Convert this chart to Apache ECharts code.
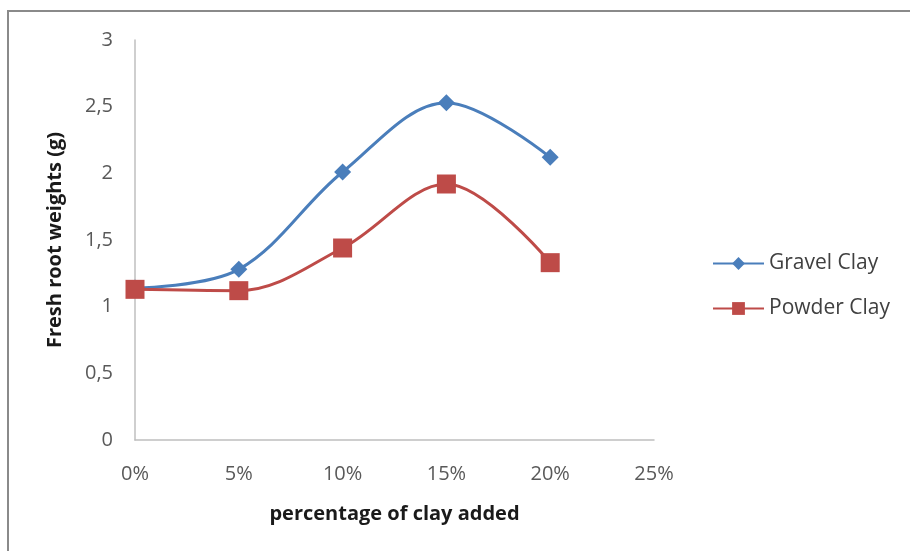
<!DOCTYPE html>
<html>
<head>
<meta charset="utf-8">
<script src="https://cdn.jsdelivr.net/npm/echarts@6/dist/echarts.min.js"></script>
<style>
  html, body { margin: 0; padding: 0; background: #ffffff; }
  #chart { width: 910px; height: 551px; }
</style>
</head>
<body>
<div id="chart"></div>
<script>
// Percentage of clay added (x-axis ticks)
const clayLabels = ['0%', '5%', '10%', '15%', '20%', '25%'];
// Fresh root weights in grams per treatment
const gravelClay = [1.14, 1.28, 2.01, 2.53, 2.12];
const powderClay = [1.13, 1.12, 1.44, 1.92, 1.33];
const yTicks = { min: 0, max: 3, interval: 0.5 };

const FONT = 'Open Sans';
const BLUE = '#4a7ebb';
const RED = '#be4b48';

const chart = echarts.init(document.getElementById('chart'), null, { renderer: 'canvas' });

chart.setOption({
  backgroundColor: '#ffffff',
  animation: false,
  textStyle: { fontFamily: FONT },
  graphic: [{
    type: 'rect',
    shape: { x: 8, y: 11, width: 920, height: 560 },
    style: { fill: 'none', stroke: '#8a8a8a', lineWidth: 2 },
    silent: true
  }],
  grid: { left: 135, right: 256, top: 40, bottom: 111 },
  legend: {
    orient: 'vertical',
    left: 707,
    top: 248,
    itemWidth: 51,
    itemHeight: 16,
    itemGap: 24,
    textStyle: { fontFamily: FONT, fontSize: 21, color: '#404040' },
    data: ['Gravel Clay', 'Powder Clay']
  },
  xAxis: {
    type: 'category',
    data: clayLabels,
    boundaryGap: false,
    name: 'percentage of clay added',
    nameLocation: 'middle',
    nameGap: 64,
    nameTextStyle: { fontFamily: FONT, fontSize: 20, fontWeight: 'bold', color: '#1a1a1a' },
    axisLine: { lineStyle: { color: '#bfbfbf', width: 1.5 } },
    axisTick: { show: false },
    axisLabel: { fontFamily: FONT, fontSize: 20, color: '#595959', margin: 24 },
    splitLine: { show: false }
  },
  yAxis: {
    type: 'value',
    min: yTicks.min,
    max: yTicks.max,
    interval: yTicks.interval,
    name: 'Fresh root weights (g)',
    nameLocation: 'middle',
    nameGap: 70,
    nameRotate: 90,
    nameTextStyle: { fontFamily: FONT, fontSize: 20, fontWeight: 'bold', color: '#1a1a1a' },
    axisLine: { show: true, lineStyle: { color: '#bfbfbf', width: 1.5 } },
    axisTick: { show: false },
    axisLabel: {
      fontFamily: FONT, fontSize: 20, color: '#595959', margin: 22,
      formatter: v => String(v).replace('.', ',')
    },
    splitLine: { show: false }
  },
  series: [
    {
      name: 'Gravel Clay',
      type: 'line',
      data: gravelClay,
      smooth: 0.35,
      symbol: 'diamond',
      symbolSize: 17,
      lineStyle: { color: BLUE, width: 3 },
      itemStyle: { color: BLUE },
      z: 2
    },
    {
      name: 'Powder Clay',
      type: 'line',
      data: powderClay,
      smooth: 0.35,
      symbol: 'rect',
      symbolSize: 19,
      lineStyle: { color: RED, width: 3 },
      itemStyle: { color: RED },
      z: 3
    }
  ]
});
</script>
</body>
</html>
